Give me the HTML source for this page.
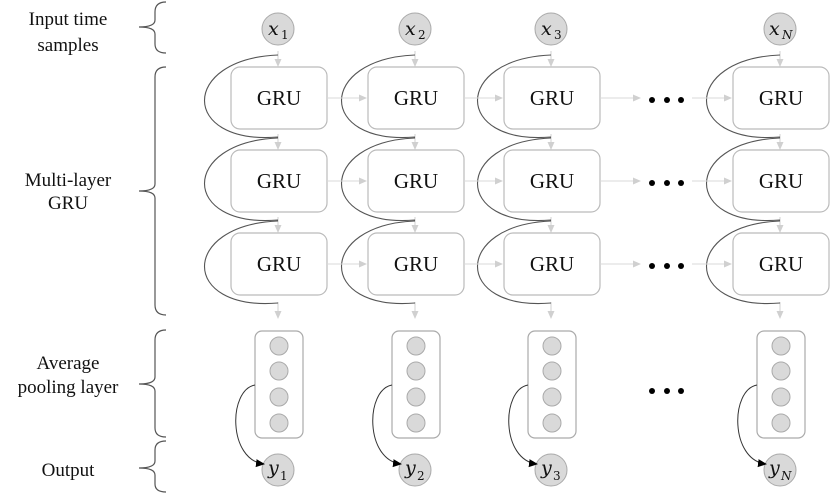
<!DOCTYPE html>
<html><head><style>body{margin:0;background:#fff}svg{display:block}</style></head><body>
<svg width="830" height="496" viewBox="0 0 830 496" xmlns="http://www.w3.org/2000/svg" font-family="Liberation Serif, serif">
<defs>
<marker id="ga" markerWidth="8" markerHeight="8" refX="7" refY="4" orient="auto" markerUnits="userSpaceOnUse"><path d="M0,0.5 L8,4 L0,7.5z" fill="#d0d0d0"/></marker>
<marker id="ba" markerWidth="9" markerHeight="9" refX="8" refY="4.5" orient="auto" markerUnits="userSpaceOnUse"><path d="M0,0.5 L9,4.5 L0,8.5z" fill="#000"/></marker>
<g id="col">
<circle cx="0" cy="29" r="16" fill="#d9d9d9" stroke="#aaa"/>
<g stroke="#d0d0d0"><line x1="0" y1="51" x2="0" y2="66" marker-end="url(#ga)"/><line x1="0" y1="134" x2="0" y2="149" marker-end="url(#ga)"/><line x1="0" y1="217" x2="0" y2="232" marker-end="url(#ga)"/><line x1="0" y1="302" x2="0" y2="318" marker-end="url(#ga)"/></g>
<g fill="#fff" stroke="#bbb" stroke-width="1.2"><rect x="-47" y="67" width="96" height="62" rx="9"/><rect x="-47" y="150" width="96" height="62" rx="9"/><rect x="-47" y="233" width="96" height="62" rx="9"/></g>
<g fill="none" stroke="#555" stroke-width="1.1"><path d="M0,55 C-98,59 -98,145 0,137"/><path d="M0,138 C-98,142 -98,228 0,220"/><path d="M0,221 C-98,225 -98,311 0,303"/></g>
<rect x="-23" y="331" width="48" height="107" rx="7" fill="#fff" stroke="#aaa" stroke-width="1.2"/>
<g fill="#d9d9d9" stroke="#aaa"><circle cx="1" cy="346" r="9"/><circle cx="1" cy="371" r="9"/><circle cx="1" cy="397" r="9"/><circle cx="1" cy="423" r="9"/><circle cx="0" cy="470" r="16"/></g>
<path d="M-23,385 C-50,390 -50,460 -14,464" fill="none" stroke="#333" stroke-width="1" marker-end="url(#ba)"/>
</g>
</defs>
<g font-size="19" text-anchor="middle" fill="#111">
<text x="68" y="25">Input time</text><text x="68" y="51">samples</text>
<text x="68" y="186">Multi-layer</text><text x="68" y="209">GRU</text>
<text x="68" y="369">Average</text><text x="68" y="393">pooling layer</text>
<text x="68" y="476">Output</text>
</g>
<g fill="none" stroke="#555" stroke-width="1.2">
<path d="M166,2 Q155,2 155,12 L155,20 Q155,27 139,27 Q155,27 155,34 L155,44 Q155,53 166,53"/>
<path d="M166,67 Q155,67 155,77 L155,184 Q155,191 139,191 Q155,191 155,198 L155,305 Q155,315 166,315"/>
<path d="M166,330 Q155,330 155,340 L155,377 Q155,384 139,384 Q155,384 155,391 L155,428 Q155,437 166,437"/>
<path d="M166,441 Q155,441 155,450 L155,461 Q155,468 139,468 Q155,468 155,475 L155,484 Q155,492 166,492"/>
</g>
<use href="#col" x="278"/><use href="#col" x="415"/><use href="#col" x="551"/><use href="#col" x="780"/>
<g stroke="#d8d8d8">
<line x1="327" y1="98" x2="366" y2="98" marker-end="url(#ga)"/><line x1="327" y1="181" x2="366" y2="181" marker-end="url(#ga)"/><line x1="327" y1="264" x2="366" y2="264" marker-end="url(#ga)"/>
<line x1="464" y1="98" x2="502" y2="98" marker-end="url(#ga)"/><line x1="464" y1="181" x2="502" y2="181" marker-end="url(#ga)"/><line x1="464" y1="264" x2="502" y2="264" marker-end="url(#ga)"/>
<line x1="600" y1="98" x2="640" y2="98" marker-end="url(#ga)"/><line x1="600" y1="181" x2="640" y2="181" marker-end="url(#ga)"/><line x1="600" y1="264" x2="640" y2="264" marker-end="url(#ga)"/>
<line x1="692" y1="98" x2="731" y2="98" marker-end="url(#ga)"/><line x1="692" y1="181" x2="731" y2="181" marker-end="url(#ga)"/><line x1="692" y1="264" x2="731" y2="264" marker-end="url(#ga)"/>
</g>
<g fill="#000">
<circle cx="652" cy="100" r="3"/><circle cx="667" cy="100" r="3"/><circle cx="681" cy="100" r="3"/>
<circle cx="652" cy="183" r="3"/><circle cx="667" cy="183" r="3"/><circle cx="681" cy="183" r="3"/>
<circle cx="652" cy="266" r="3"/><circle cx="667" cy="266" r="3"/><circle cx="681" cy="266" r="3"/>
<circle cx="652" cy="391" r="3"/><circle cx="667" cy="391" r="3"/><circle cx="681" cy="391" r="3"/>
</g>
<g font-size="21" text-anchor="middle" fill="#111">
<text x="279" y="105">GRU</text><text x="279" y="188">GRU</text><text x="279" y="271">GRU</text>
<text x="416" y="105">GRU</text><text x="416" y="188">GRU</text><text x="416" y="271">GRU</text>
<text x="552" y="105">GRU</text><text x="552" y="188">GRU</text><text x="552" y="271">GRU</text>
<text x="781" y="105">GRU</text><text x="781" y="188">GRU</text><text x="781" y="271">GRU</text>
</g>
<g font-family="DejaVu Serif, serif" fill="#111">
<text x="268" y="35" font-size="19" font-style="italic">x</text><text x="281" y="39" font-size="12">1</text>
<text x="405" y="35" font-size="19" font-style="italic">x</text><text x="418" y="39" font-size="12">2</text>
<text x="541" y="35" font-size="19" font-style="italic">x</text><text x="554" y="39" font-size="12">3</text>
<text x="769" y="35" font-size="19" font-style="italic">x</text><text x="782" y="39" font-size="12" font-style="italic">N</text>
<text x="268" y="474" font-size="19" font-style="italic">y</text><text x="280" y="480" font-size="12">1</text>
<text x="405" y="474" font-size="19" font-style="italic">y</text><text x="417" y="480" font-size="12">2</text>
<text x="541" y="474" font-size="19" font-style="italic">y</text><text x="553" y="480" font-size="12">3</text>
<text x="769" y="474" font-size="19" font-style="italic">y</text><text x="781" y="480" font-size="12" font-style="italic">N</text>
</g>
</svg>
</body></html>
